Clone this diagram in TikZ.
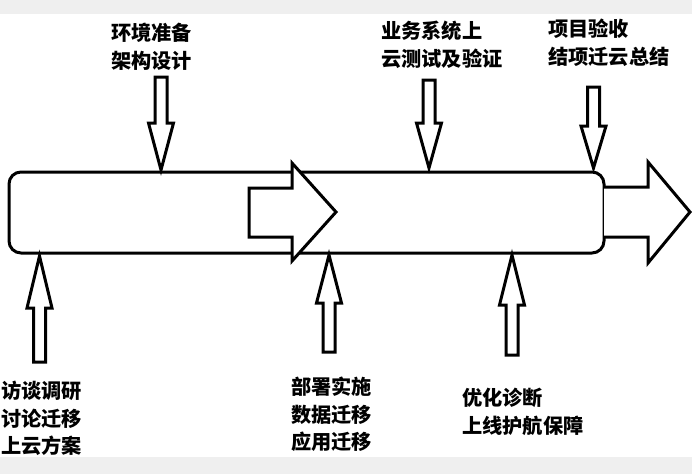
\documentclass[tikz,border=0pt]{standalone}
\usepackage{fontspec}
\newfontfamily\cjk{Noto Sans CJK SC}
\definecolor{stripgray}{HTML}{EFEFEF}
\tikzset{
  shapeline/.style={draw=black, line width=3pt, fill=white, line join=miter},
  label/.style={inner sep=0pt, anchor=north west, align=left,
    font=\cjk\bfseries\fontsize{20.2pt}{27.5pt}\selectfont}
}
\begin{document}
\begin{tikzpicture}[x=1pt,y=-1pt]
\useasboundingbox (0,0) rectangle (692,474);
\fill[white] (0,0) rectangle (692,474);
\fill[stripgray] (0,0) rectangle (692,14);
\fill[stripgray] (0,457) rectangle (692,474);

% main bar
\draw[shapeline, rounded corners=12pt] (9,172) rectangle (604,253);
% right arrow (attached to bar)
\draw[shapeline] (604,187) -- (648,187) -- (648,162) -- (690,212) -- (648,263) -- (648,237) -- (604,237);
% middle arrow
\draw[shapeline] (249,188) -- (292,188) -- (292,163) -- (336,212) -- (292,261) -- (292,237) -- (249,237) -- cycle;

% down arrows
\draw[shapeline] (155,77) -- (167,77) -- (167,123) -- (173.5,123) -- (161,170) -- (148.5,123) -- (155,123) -- cycle;
\draw[shapeline] (423,80) -- (435,80) -- (435,123) -- (441.5,123) -- (429,168) -- (416.5,123) -- (423,123) -- cycle;
\draw[shapeline] (587.5,87) -- (599.5,87) -- (599.5,126) -- (606,126) -- (593.5,168) -- (581,126) -- (587.5,126) -- cycle;

% up arrows
\draw[shapeline] (33.5,362) -- (45.5,362) -- (45.5,308) -- (52,308) -- (39.5,256) -- (27,308) -- (33.5,308) -- cycle;
\draw[shapeline] (323,352) -- (335,352) -- (335,303) -- (341.5,303) -- (329,255) -- (316.5,303) -- (323,303) -- cycle;
\draw[shapeline] (506,355) -- (518,355) -- (518,305) -- (524.5,305) -- (512,255) -- (499.5,305) -- (506,305) -- cycle;

% labels
\node[label] (t1) at (111,23) {环境准备\\架构设计};
\node[label] (t2) at (381,21) {业务系统上\\云测试及验证};
\node[label] (t3) at (548,19) {项目验收\\结项迁云总结};
\node[label] (b1) at (1,381) {访谈调研\\讨论迁移\\上云方案};
\node[label] (b2) at (291,377) {部署实施\\数据迁移\\应用迁移};
\node[label] (b3) at (462,388) {优化诊断\\上线护航保障};
\end{tikzpicture}
\end{document}
